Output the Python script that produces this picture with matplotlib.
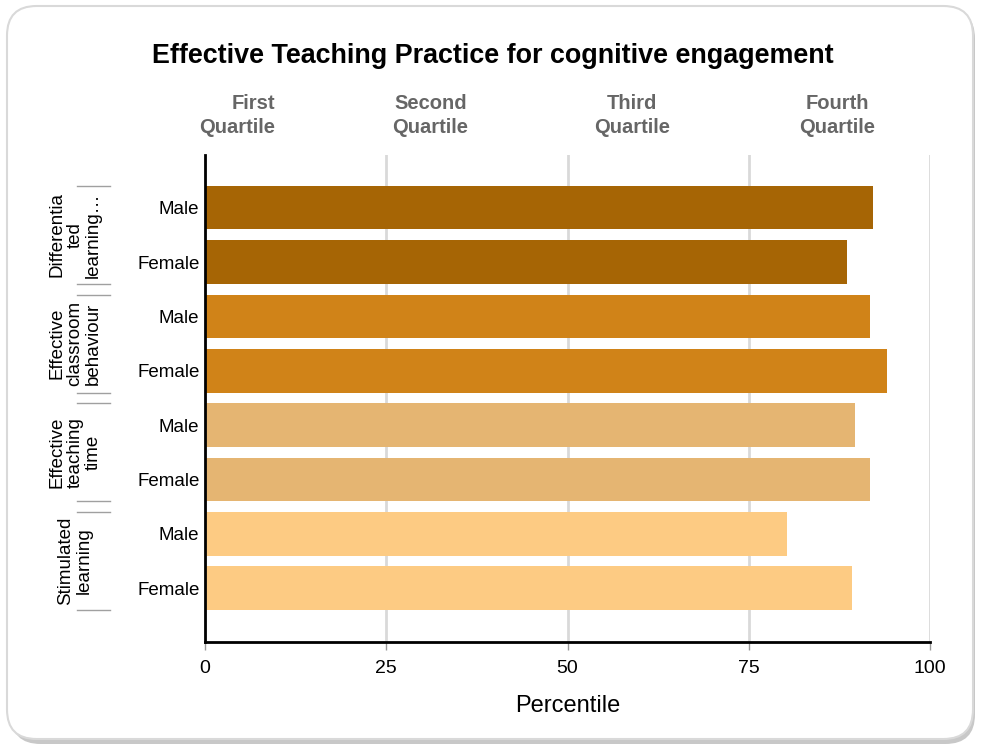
import matplotlib
matplotlib.use("Agg")
import matplotlib.pyplot as plt
from matplotlib.patches import FancyBboxPatch
from matplotlib.lines import Line2D

plt.rcParams['font.family'] = ['Liberation Sans', 'DejaVu Sans']

# ---- data ----
groups = ["Differentia\nted\nlearning…", "Effective\nclassroom\nbehaviour",
          "Effective\nteaching\ntime", "Stimulated\nlearning"]
genders = ["Male", "Female"]
values = [92.1, 88.6, 91.7, 94.1, 89.7, 91.7, 80.3, 89.2]
group_colors = ["#A66505", "#D08318", "#E5B572", "#FDCB83"]
xticks = [0, 25, 50, 75, 100]
quartile_labels = ["First\nQuartile", "Second\nQuartile", "Third\nQuartile", "Fourth\nQuartile"]
quartile_pos = [4.4, 31.1, 58.9, 87.2]
quartile_align = ["right", "center", "center", "center"]
title = "Effective Teaching Practice for cognitive engagement"
xlabel = "Percentile"

W, H = 986, 747
fig = plt.figure(figsize=(W / 100, H / 100), dpi=100)

def fx(px): return px / W
def fy(py): return 1 - py / H

shadow = FancyBboxPatch((fx(11), fy(744)), fx(975) - fx(11), fy(9) - fy(744),
                        boxstyle="round,pad=0,rounding_size=0.03",
                        transform=fig.transFigure, facecolor="#c8c8c8",
                        edgecolor="none", zorder=-3, mutation_aspect=W / H)
fig.patches.append(shadow)
frame = FancyBboxPatch((fx(7), fy(739)), fx(973) - fx(7), fy(6) - fy(739),
                       boxstyle="round,pad=0,rounding_size=0.03",
                       transform=fig.transFigure, facecolor="white",
                       edgecolor="#d9d9d9", linewidth=1.5, zorder=-2,
                       mutation_aspect=W / H)
fig.patches.append(frame)

ax = fig.add_axes([fx(205), fy(642), fx(930) - fx(205), fy(155) - fy(642)])
ax.set_facecolor("none")
ax.set_zorder(2)

ypos = list(range(len(values)))
colors = [group_colors[i // 2] for i in range(len(values))]
ax.barh(ypos, values, height=0.8, color=colors, zorder=3)

ax.set_xlim(0, 100)
ax.set_ylim(7.99, -0.97)
ax.set_xticks(xticks)
ax.set_xticklabels([str(t) for t in xticks], fontsize=14)
ax.tick_params(axis='x', length=6, color="#999999", pad=7, width=1)
ax.set_yticks(ypos)
ax.set_yticklabels([genders[i % 2] for i in ypos], fontsize=13.5)
ax.tick_params(axis='y', length=0, pad=4)
ax.grid(axis='x', color="#d9d9d9", linewidth=2, zorder=0)
ax.set_axisbelow(True)
for s in ["top", "right"]:
    ax.spines[s].set_visible(False)
for s in ["left", "bottom"]:
    ax.spines[s].set_linewidth(2)
    ax.spines[s].set_color("black")
    ax.spines[s].set_zorder(5)

ax.set_xlabel(xlabel, fontsize=17, labelpad=13)

for lab, p, al in zip(quartile_labels, quartile_pos, quartile_align):
    ax.text(p, -1.69, lab, ha="center", va="center", fontsize=14.5,
            fontweight="bold", color="#666666", linespacing=1.35,
            multialignment=al, clip_on=False)

fig.text(0.5, fy(56), title, ha="center", va="center", fontsize=19.4,
         fontweight="bold", color="black")

bx0, bx1 = fx(77), fx(110)
inv = fig.transFigure.inverted()
for g in range(len(groups)):
    ytop = inv.transform(ax.transData.transform((0, 2 * g - 0.4)))[1]
    ybot = inv.transform(ax.transData.transform((0, 2 * g + 1.4)))[1]
    for yy in (ytop, ybot):
        fig.add_artist(Line2D([bx0, bx1], [yy, yy], transform=fig.transFigure,
                              color="#a0a0a0", linewidth=1))
    ymid = (ytop + ybot) / 2
    fig.text(fx(75), ymid, groups[g], rotation=90, ha="center", va="center",
             fontsize=13.5, linespacing=1.1, multialignment="center")

fig.savefig("out.png", dpi=100)
